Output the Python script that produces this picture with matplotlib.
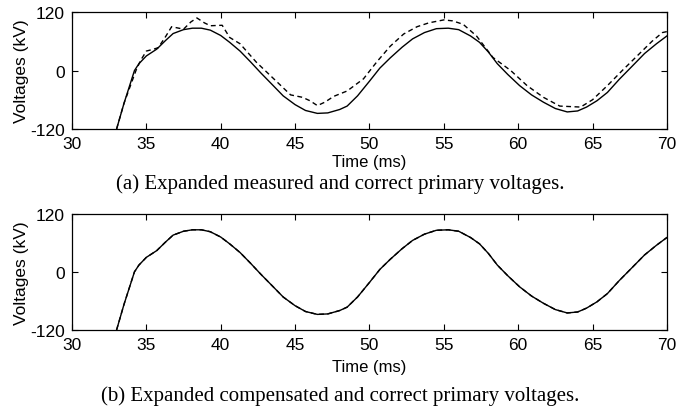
import matplotlib.pyplot as plt

plt.rcParams['font.family'] = ['Liberation Sans', 'DejaVu Sans']
plt.rcParams['axes.unicode_minus'] = False

# correct primary voltage (solid)
t_correct = [33.0, 33.5, 34.2, 34.5, 35.0, 35.7, 36.3, 36.8, 37.5, 38.1, 38.7, 39.3,
             40.0, 40.6, 41.3, 42.0, 42.7, 43.5, 44.2, 45.0, 45.7, 46.5, 47.2, 48.0,
             48.5, 49.2, 50.0, 50.7, 51.4, 52.2, 52.9, 53.7, 54.5, 55.3, 56.0, 56.8,
             57.4, 58.0, 58.6, 59.3, 60.1, 60.9, 61.7, 62.5, 63.3, 64.0, 64.6, 65.3,
             66.0, 66.8, 67.7, 68.5, 69.3, 70.0]
v_correct = [-120, -67, 0, 14, 30, 44, 62, 76, 84, 87, 87, 83,
             72, 58, 40, 18, -5, -30, -52, -70, -82, -88, -87, -80,
             -73, -52, -22, 5, 26, 48, 65, 78, 86, 87, 84, 71,
             58, 38, 14, -8, -31, -50, -65, -78, -85, -83, -75, -62,
             -45, -18, 10, 35, 55, 71]

# measured primary voltage (dashed, top panel)
t_measured = [33.0, 33.5, 34.3, 34.6, 35.0, 35.5, 35.8, 36.3, 36.7, 37.5, 38.0, 38.4,
              38.9, 39.3, 40.1, 40.6, 41.3, 42.4, 43.5, 44.7, 45.5, 46.0, 46.5, 47.0,
              47.6, 48.5, 49.6, 50.5, 51.4, 52.3, 53.2, 54.0, 55.0, 55.6, 56.3, 57.2,
              58.3, 59.5, 60.6, 61.7, 62.8, 64.2, 65.0, 66.0, 67.0, 68.0, 69.0, 69.7, 70.0]
v_measured = [-120, -67, 0, 20, 40, 44, 47, 70, 90, 85, 100, 108,
              98, 92, 93, 68, 55, 17, -15, -50, -55, -62, -72, -65,
              -53, -42, -17, 18, 50, 75, 90, 98, 104, 102, 95, 71,
              27, 0, -31, -55, -73, -75, -60, -31, 0, 30, 60, 78, 80]

# compensated voltage (dashed, bottom panel) - lies on top of the correct one
t_comp = t_correct
v_comp = v_correct

captions = ['(a) Expanded measured and correct primary voltages.',
            '(b) Expanded compensated and correct primary voltages.']

fig = plt.figure(figsize=(6.76, 4.10), dpi=100)
ax1 = fig.add_axes([0.1065, 0.683, 0.880, 0.285])
ax2 = fig.add_axes([0.1065, 0.193, 0.880, 0.283])

panels = [(ax1, t_measured, v_measured, 2), (ax2, t_comp, v_comp, 5)]
for ax, t2, v2, lpad in panels:
    ax.plot(t_correct, v_correct, color='black', lw=1.0)
    ax.plot(t2, v2, color='black', lw=1.0, dashes=(3.5, 2.5))
    ax.set_xlim(30, 70)
    ax.set_ylim(-120, 120)
    ax.set_xticks(range(30, 71, 5))
    ax.set_yticks([-120, 0, 120])
    ax.tick_params(direction='in', top=True, right=True, length=4, width=0.8,
                   labelsize=12.5, pad=5)
    for sp in ax.spines.values():
        sp.set_linewidth(0.9)
    ax.set_xlabel('Time (ms)', fontsize=12, labelpad=lpad)
    ax.set_ylabel('Voltages (kV)', fontsize=12.5, labelpad=1)

fig.text(0.503, 1 - 184 / 410, captions[0], ha='center', va='center',
         family='Liberation Serif', fontsize=15)
fig.text(0.503, 1 - 396 / 410, captions[1], ha='center', va='center',
         family='Liberation Serif', fontsize=15)

fig.savefig('out.png', dpi=100)
